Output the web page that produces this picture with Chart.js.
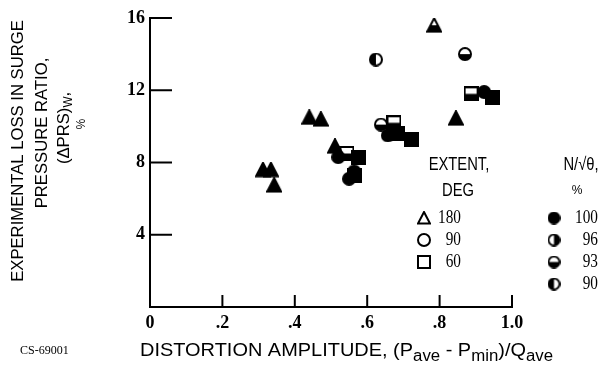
<!DOCTYPE html>
<html>
<head>
<meta charset="utf-8">
<script src="https://cdn.jsdelivr.net/npm/chart.js@4.4.1/dist/chart.umd.min.js"></script>
<style>
html,body{margin:0;padding:0;background:#fff;}
#wrap{position:relative;width:609px;height:368px;}
</style>
</head>
<body>
<div id="wrap"><canvas id="c" width="609" height="368"></canvas></div>
<script>
// ---- data ----
const xTicks = [0, 0.2, 0.4, 0.6, 0.8, 1.0];
const xTickLabels = ['0', '.2', '.4', '.6', '.8', '1.0'];
const yTicks = [4, 8, 12, 16];

// extent 180 deg (triangles)
const tri100X = [0.312, 0.334, 0.343, 0.440, 0.472, 0.511, 0.845];
const tri100Y = [7.6, 7.6, 6.75, 10.5, 10.4, 8.9, 10.45];
const tri93X = [0.785];
const tri93Y = [15.6];
// extent 90 deg (circles)
const cir100X = [0.520, 0.550, 0.564, 0.657, 0.923];
const cir100Y = [8.3, 7.1, 7.5, 9.5, 11.9];
const cir93X = [0.638, 0.870];
const cir93Y = [10.1, 14.0];
const cir90X = [0.624];
const cir90Y = [13.7];
// extent 60 deg (squares)
const sq100X = [0.575, 0.566, 0.685, 0.721, 0.945];
const sq100Y = [8.25, 7.3, 9.6, 9.3, 11.6];
const sq93X = [0.544, 0.674, 0.887];
const sq93Y = [8.5, 10.2, 11.8];

const extentLabels = ['180', '90', '60'];
const speedLabels = ['100', '96', '93', '90'];

// ---- fonts ----
const SANS = "'Liberation Sans','Arial',sans-serif";
const SERIF = "'Liberation Serif','DejaVu Serif',serif";

// ---- marker drawing ----
function marker(shape, fill, size) {
  const s = size || 14;
  const c = document.createElement('canvas');
  c.width = s; c.height = s;
  const g = c.getContext('2d');
  const path = () => {
    g.beginPath();
    if (shape === 'tri') {
      g.moveTo(s / 2, 1); g.lineTo(s - 1, s - 1.5); g.lineTo(1, s - 1.5); g.closePath();
    } else if (shape === 'sq') {
      g.rect(1, 1, s - 2, s - 2);
    } else {
      g.arc(s / 2, s / 2, s / 2 - 1, 0, Math.PI * 2);
    }
  };
  g.lineWidth = 2; g.strokeStyle = '#000'; g.fillStyle = '#000';
  path(); g.fillStyle = '#fff'; g.fill();
  if (fill !== 'open') {
    g.save(); path(); g.clip();
    g.fillStyle = '#000';
    if (fill === 'full') g.fillRect(0, 0, s, s);
    else if (fill === 'top') g.fillRect(0, s / 2, s, s);        // 93: top white
    else if (fill === 'left') g.fillRect(s / 2, 0, s, s);       // 96: left white
    else if (fill === 'right') g.fillRect(0, 0, s / 2, s);      // 90: right white
    g.restore();
  }
  path(); g.stroke();
  return c;
}

function pts(xs, ys) { return xs.map((x, i) => ({ x: x, y: ys[i] })); }
function ds(xs, ys, shape, fill, size) {
  return { data: pts(xs, ys), pointStyle: marker(shape, fill, size), pointRadius: 8, pointHoverRadius: 8,
           backgroundColor: '#000', borderColor: '#000', showLine: false };
}

const datasets = [
  ds(tri100X, tri100Y, 'tri', 'full', 16),
  ds(tri93X, tri93Y, 'tri', 'top', 16),
  ds(cir100X, cir100Y, 'cir', 'full', 14),
  ds(cir93X, cir93Y, 'cir', 'top', 14),
  ds(cir90X, cir90Y, 'cir', 'right', 14),
  ds(sq100X, sq100Y, 'sq', 'full', 15),
  ds(sq93X, sq93Y, 'sq', 'top', 15)
];

// text helper with horizontal compression
function txt(ctx, t, x, y, font, sx, align) {
  ctx.save();
  ctx.font = font;
  ctx.translate(x, y);
  ctx.scale(sx, 1);
  ctx.textAlign = align || 'left';
  ctx.fillText(t, 0, 0);
  const w = ctx.measureText(t).width * sx;
  ctx.restore();
  return w;
}

// ---- decorations plugin ----
const deco = {
  id: 'deco',
  afterDraw(chart) {
    const ctx = chart.ctx;
    const xs = chart.scales.x, ys = chart.scales.y;
    const a = chart.chartArea;
    ctx.save();
    ctx.strokeStyle = '#000'; ctx.lineWidth = 2;
    // inward ticks
    yTicks.forEach(v => {
      const py = ys.getPixelForValue(v);
      ctx.beginPath(); ctx.moveTo(a.left, py); ctx.lineTo(a.left + 22, py); ctx.stroke();
    });
    xTicks.slice(1).forEach(v => {
      const px = xs.getPixelForValue(v);
      ctx.beginPath(); ctx.moveTo(px, a.bottom); ctx.lineTo(px, a.bottom - 12); ctx.stroke();
    });

    ctx.fillStyle = '#000';
    ctx.textBaseline = 'middle';
    // x title with subscripts
    const segs = [['DISTORTION AMPLITUDE, (P', 0], ['ave', 1], [' - P', 0], ['min', 1], [')/Q', 0], ['ave', 1]];
    let x = 140; const yb = 351;
    segs.forEach(([t, sub]) => {
      x += txt(ctx, t, x, sub ? yb + 6 : yb, (sub ? '16px ' : '19px ') + SANS, 1.05);
    });
    // footnote
    txt(ctx, 'CS-69001', 20, 351, '12px ' + SERIF, 1.0);

    // y title (rotated lines)
    const lines = [
      { cx: 18, cy: 151, parts: [['EXPERIMENTAL LOSS IN SURGE', 0]] },
      { cx: 42, cy: 133, parts: [['PRESSURE RATIO,', 0]] },
      { cx: 64, cy: 128, parts: [['(\u0394PRS)', 0], ['W', 1], [',', 0]] },
      { cx: 82, cy: 124, parts: [['%', 2]] }
    ];
    const SX = 0.98;
    const fnt = sub => (sub === 1 ? '12px ' : sub === 2 ? '12px ' : '17px ') + SANS;
    lines.forEach(l => {
      ctx.save();
      ctx.translate(l.cx, l.cy);
      ctx.rotate(-Math.PI / 2);
      let w = 0;
      l.parts.forEach(([t, sub]) => { ctx.font = fnt(sub); w += ctx.measureText(t).width * SX; });
      let px = -w / 2;
      l.parts.forEach(([t, sub]) => {
        px += txt(ctx, t, px, sub === 1 ? 5 : 0, fnt(sub), SX);
      });
      ctx.restore();
    });

    // legend: extent
    txt(ctx, 'EXTENT,', 459, 165, '18px ' + SANS, 0.82, 'center');
    txt(ctx, 'DEG', 458, 191, '18px ' + SANS, 0.82, 'center');
    const extShapes = ['tri', 'cir', 'sq'];
    const rowY = [218, 240, 262, 284];
    extShapes.forEach((sh, i) => {
      const m = marker(sh, 'open', 14);
      ctx.drawImage(m, 424 - 7, rowY[i] - 7);
      txt(ctx, extentLabels[i], 461, rowY[i], '18px ' + SERIF, 0.85, 'right');
    });
    // legend: speed
    txt(ctx, 'N/\u221A\u03B8,', 581, 165, '18px ' + SANS, 0.82, 'center');
    txt(ctx, '%', 577, 191, '12px ' + SANS, 1.0, 'center');
    const fills = ['full', 'left', 'top', 'right'];
    fills.forEach((f, i) => {
      const m = marker('cir', f, 13);
      ctx.drawImage(m, 554 - 6.5, rowY[i] - 6.5);
      txt(ctx, speedLabels[i], 598, rowY[i], '18px ' + SERIF, 0.85, 'right');
    });
    ctx.restore();
  }
};

new Chart(document.getElementById('c'), {
  type: 'scatter',
  data: { datasets: datasets },
  plugins: [deco],
  options: {
    responsive: false,
    animation: false,
    events: [],
    layout: { padding: { left: 0, right: 97, top: 18, bottom: 0 } },
    plugins: { legend: { display: false }, tooltip: { enabled: false } },
    scales: {
      x: {
        type: 'linear', min: 0, max: 1,
        afterFit: s => { s.height = 61; },
        afterBuildTicks: s => { s.ticks = xTicks.map(v => ({ value: v })); },
        grid: { display: false, drawTicks: false, tickLength: 0 },
        border: { display: true, color: '#000', width: 2 },
        ticks: {
          color: '#000', padding: 6, maxRotation: 0,
          font: { family: SERIF, size: 18, weight: 'bold' },
          callback: (v) => { const i = xTicks.indexOf(v); return i >= 0 ? xTickLabels[i] : ''; }
        }
      },
      y: {
        type: 'linear', min: 0, max: 16,
        afterFit: s => { s.width = 150; },
        afterBuildTicks: s => { s.ticks = yTicks.map(v => ({ value: v })); },
        grid: { display: false, drawTicks: false, tickLength: 0 },
        border: { display: true, color: '#000', width: 2 },
        ticks: {
          color: '#000', padding: 5,
          font: { family: SERIF, size: 18, weight: 'bold' },
          callback: (v) => String(v)
        }
      }
    }
  }
});
</script>
</body>
</html>
